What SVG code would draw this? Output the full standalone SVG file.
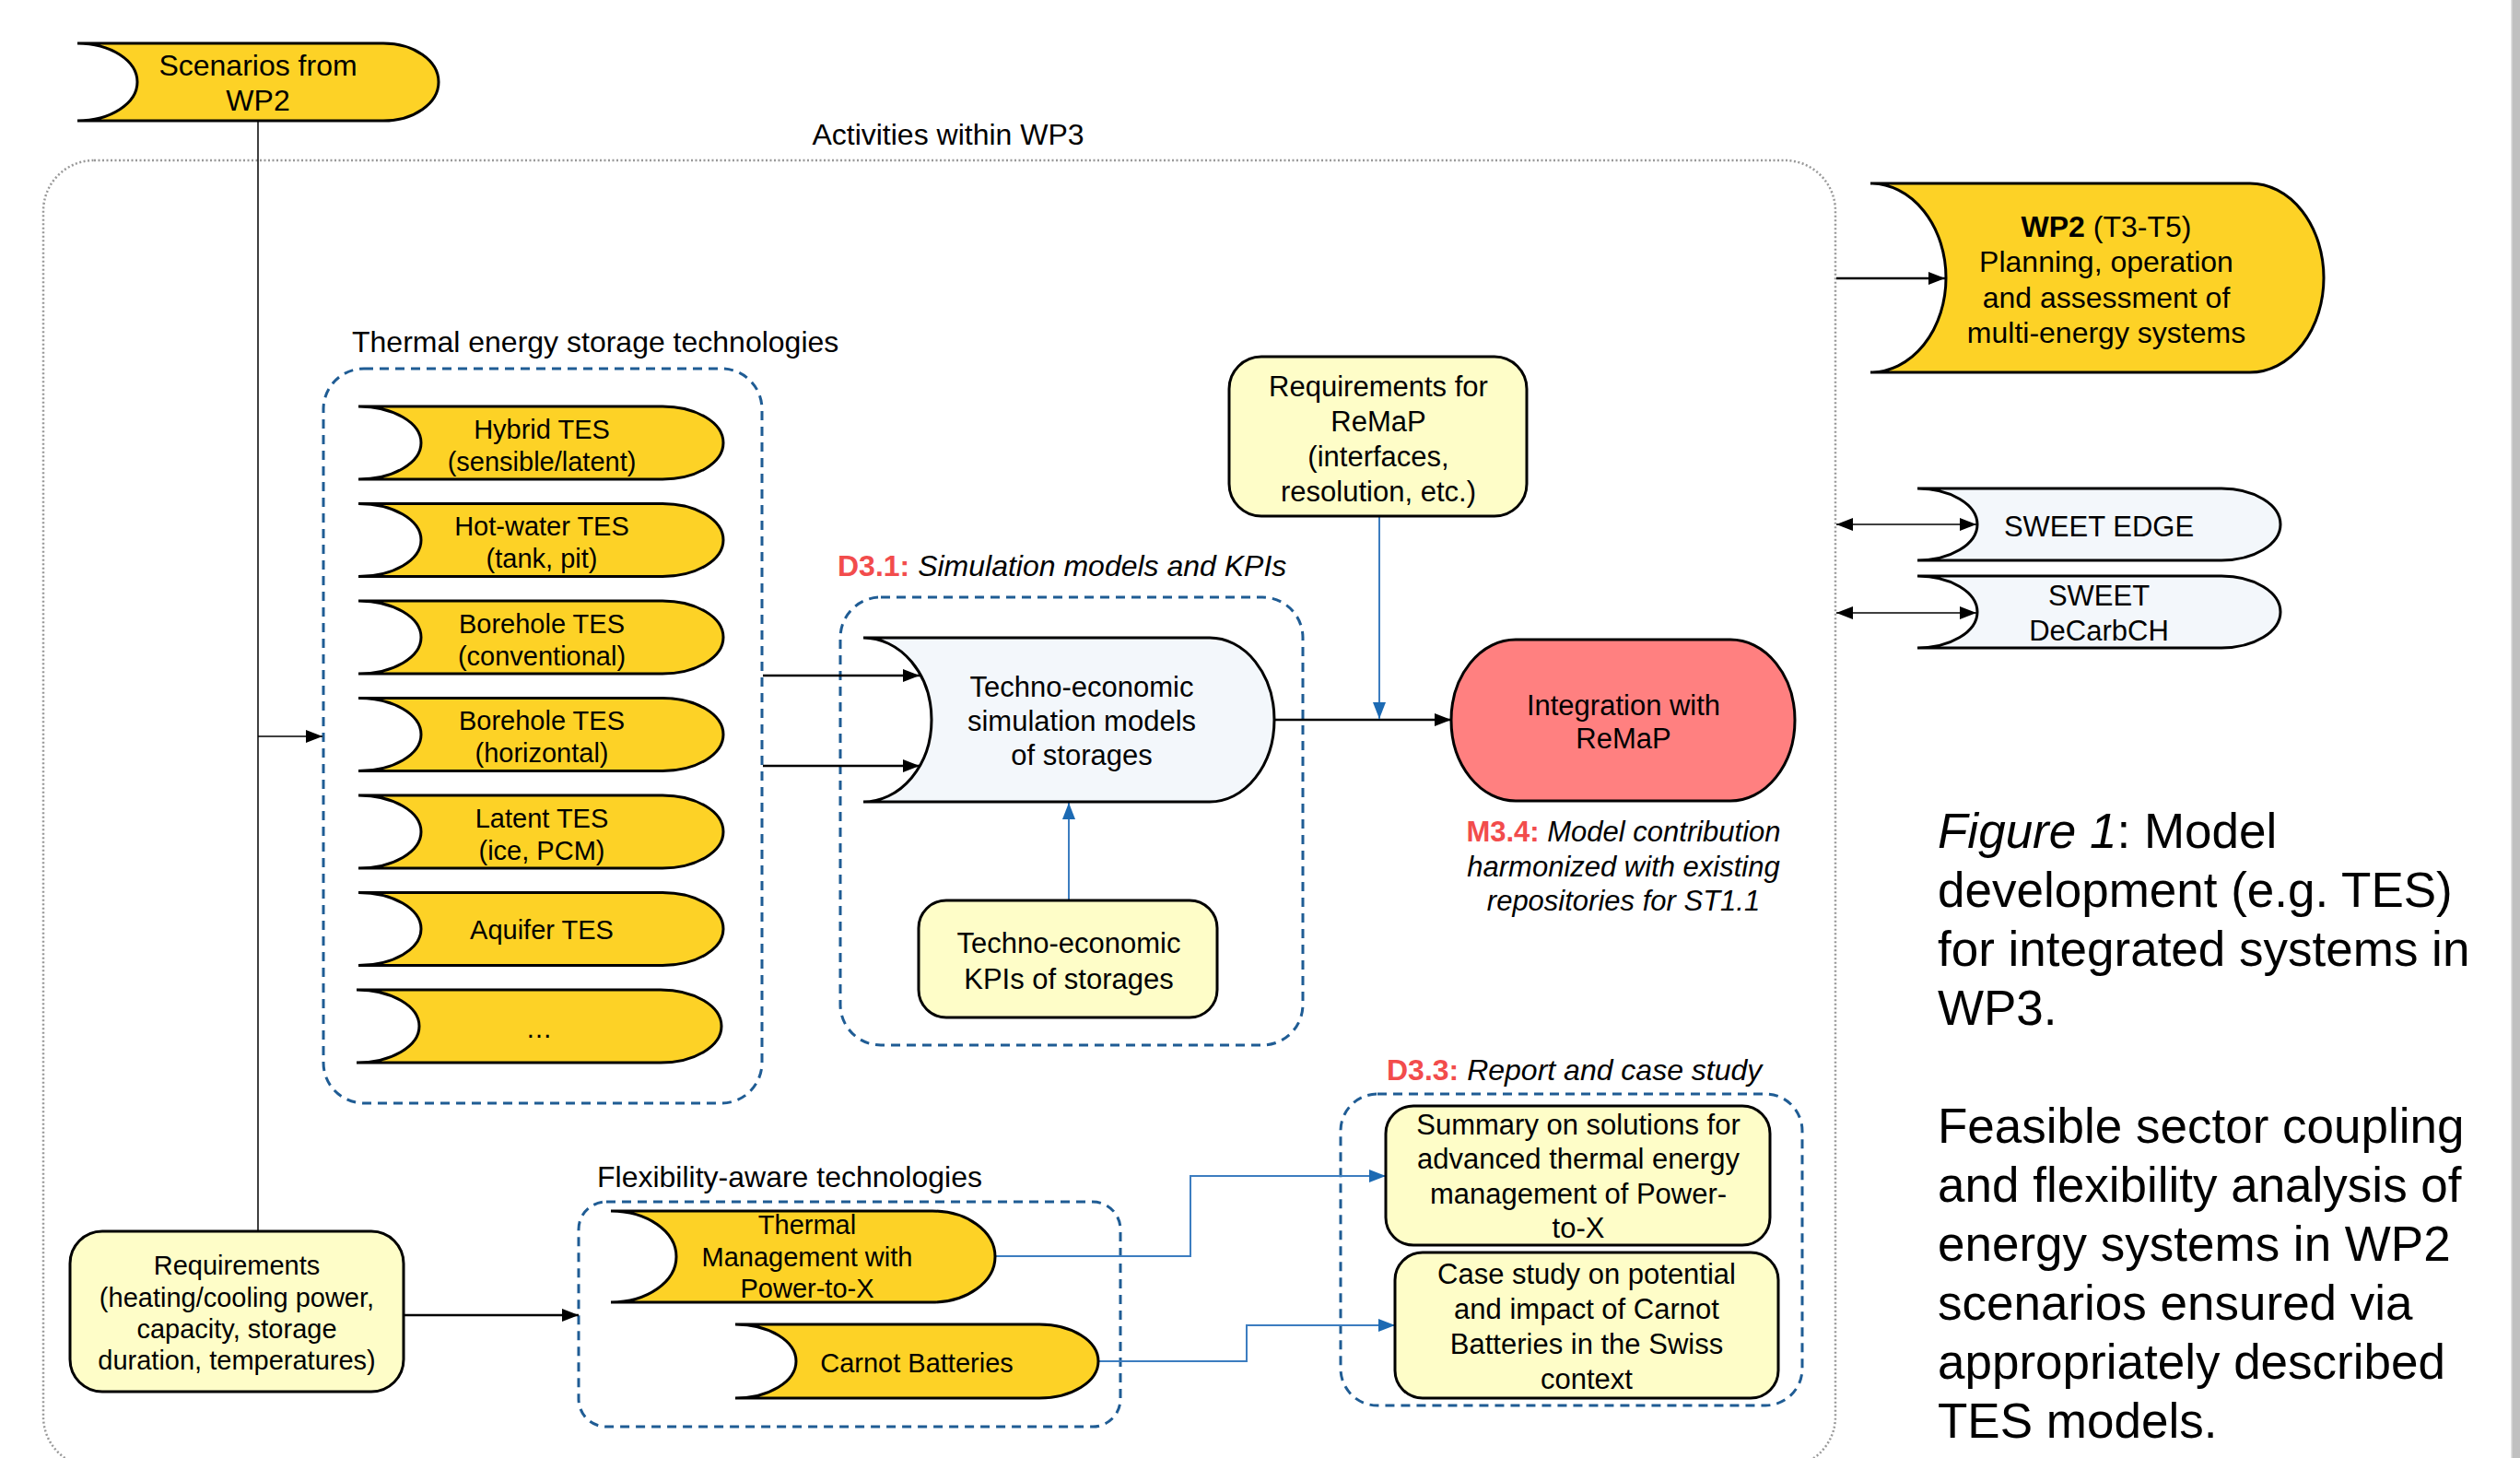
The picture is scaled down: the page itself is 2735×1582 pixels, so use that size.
<svg xmlns="http://www.w3.org/2000/svg" width="2735" height="1582" viewBox="0 0 2735 1582">
  <style>
    text { font-family: "Liberation Sans", Arial, sans-serif; fill: #000; }
    .t32 { font-size: 32px; }
    .t31 { font-size: 31px; text-anchor: middle; }
    .t29 { font-size: 29px; text-anchor: middle; }
    .mid { text-anchor: middle; }
    .cap { font-size: 53px; }
    .red { fill: #f24c4c; font-weight: bold; font-style: normal; }
    .it { font-style: italic; }
    .node { stroke: #000; stroke-width: 3; }
    .yellow { fill: #fdd226; }
    .pale { fill: #fefdc8; }
    .ice { fill: #f3f7fb; }
    .salmon { fill: #ff8080; }
    .group { fill: none; stroke: #1f5c94; stroke-width: 3; stroke-dasharray: 10 7; }
    .outer { fill: none; stroke: #999; stroke-width: 2.5; stroke-dasharray: 2 2.5; }
    .link { fill: none; stroke: #000; stroke-width: 2.5; }
    .thin { fill: none; stroke: #000; stroke-width: 1.5; }
    .blue { fill: none; stroke: #3c7dc0; stroke-width: 2; }
  </style>
  <defs>
    <marker id="arrow" markerUnits="userSpaceOnUse" markerWidth="18" markerHeight="14" refX="18" refY="7" orient="auto-start-reverse">
      <path d="M0 0 L18 7 L0 14 Z" fill="#000"/>
    </marker>
    <marker id="arrowBlue" markerUnits="userSpaceOnUse" markerWidth="18" markerHeight="14" refX="18" refY="7" orient="auto">
      <path d="M0 0 L18 7 L0 14 Z" fill="#1c6ab3"/>
    </marker>
  </defs>

  <rect width="2735" height="1582" fill="#fff"/>
  <!-- page edge -->
  <rect x="2726" y="0" width="9" height="1582" fill="#c0c0c0"/>
  <rect x="2725" y="0" width="1.5" height="1582" fill="#e2e2e2"/>

  <!-- WP3 frame -->
  <g id="wp3-frame">
    <rect class="outer" x="47" y="174" width="1945" height="1418" rx="55"/>
    <text class="t32 mid" x="1029" y="157">Activities within WP3</text>
  </g>

  <!-- group frames -->
  <g id="tes-group">
    <rect class="group" x="351" y="400" width="476" height="797" rx="44"/>
    <text class="t32" x="382" y="382">Thermal energy storage technologies</text>
  </g>
  <g id="d31-group">
    <rect class="group" x="912" y="648" width="502" height="486" rx="44"/>
    <text class="t32" x="909" y="625"><tspan class="red">D3.1:</tspan><tspan class="it"> Simulation models and KPIs</tspan></text>
  </g>
  <g id="flex-group">
    <rect class="group" x="628" y="1304" width="588" height="244" rx="30"/>
    <text class="t32" x="648" y="1288">Flexibility-aware technologies</text>
  </g>
  <g id="d33-group">
    <rect class="group" x="1455" y="1187" width="501" height="338" rx="40"/>
    <text class="t32" x="1505" y="1172"><tspan class="red">D3.3:</tspan><tspan class="it"> Report and case study</tspan></text>
  </g>

  <!-- connectors -->
  <g id="connectors">
    <path class="thin" d="M280 131 V1336"/>
    <path class="thin" d="M280 799 H350" marker-end="url(#arrow)"/>
    <path class="link" d="M828 733 H998" marker-end="url(#arrow)"/>
    <path class="link" d="M828 831 H998" marker-end="url(#arrow)"/>
    <path class="link" d="M1383 781 H1575" marker-end="url(#arrow)"/>
    <path class="blue" d="M1497 561 V780" marker-end="url(#arrowBlue)"/>
    <path class="blue" d="M1160 977 V871" marker-end="url(#arrowBlue)"/>
    <path class="link" d="M1993 302 H2111" marker-end="url(#arrow)"/>
    <path class="thin" d="M1993 569 H2145" marker-start="url(#arrow)" marker-end="url(#arrow)"/>
    <path class="thin" d="M1993 665 H2145" marker-start="url(#arrow)" marker-end="url(#arrow)"/>
    <path class="link" d="M438 1427 H628" marker-end="url(#arrow)"/>
    <path class="blue" d="M1080 1363 H1292 V1276 H1504" marker-end="url(#arrowBlue)"/>
    <path class="blue" d="M1192 1477 H1353 V1438 H1514" marker-end="url(#arrowBlue)"/>
  </g>

  <!-- nodes -->
  <g id="scenarios-wp2">
    <path class="node yellow" d="M84 47 H416 A60 42 0 0 1 416 131 H84 A65 42 0 0 0 84 47 Z"/>
    <text class="t32 mid" x="280" y="82">Scenarios from</text>
    <text class="t32 mid" x="280" y="120">WP2</text>
  </g>

  <g id="tes-hybrid">
    <path class="node yellow" d="M389 441 H719 A66 39.5 0 0 1 719 520 H389 A68 39.5 0 0 0 389 441 Z"/>
    <text class="t29" x="588" y="476">Hybrid TES</text>
    <text class="t29" x="588" y="511">(sensible/latent)</text>
  </g>
  <g id="tes-hotwater">
    <path class="node yellow" d="M389 546.5 H719 A66 39.5 0 0 1 719 625.5 H389 A68 39.5 0 0 0 389 546.5 Z"/>
    <text class="t29" x="588" y="581">Hot-water TES</text>
    <text class="t29" x="588" y="616">(tank, pit)</text>
  </g>
  <g id="tes-borehole-conv">
    <path class="node yellow" d="M389 652 H719 A66 39.5 0 0 1 719 731 H389 A68 39.5 0 0 0 389 652 Z"/>
    <text class="t29" x="588" y="686.5">Borehole TES</text>
    <text class="t29" x="588" y="721.5">(conventional)</text>
  </g>
  <g id="tes-borehole-horiz">
    <path class="node yellow" d="M389 757.5 H719 A66 39.5 0 0 1 719 836.5 H389 A68 39.5 0 0 0 389 757.5 Z"/>
    <text class="t29" x="588" y="792">Borehole TES</text>
    <text class="t29" x="588" y="827">(horizontal)</text>
  </g>
  <g id="tes-latent">
    <path class="node yellow" d="M389 863 H719 A66 39.5 0 0 1 719 942 H389 A68 39.5 0 0 0 389 863 Z"/>
    <text class="t29" x="588" y="897.5">Latent TES</text>
    <text class="t29" x="588" y="932.5">(ice, PCM)</text>
  </g>
  <g id="tes-aquifer">
    <path class="node yellow" d="M389 968.5 H719 A66 39.5 0 0 1 719 1047.5 H389 A68 39.5 0 0 0 389 968.5 Z"/>
    <text class="t29" x="588" y="1019">Aquifer TES</text>
  </g>
  <g id="tes-more">
    <path class="node yellow" d="M387 1074 H717 A66 39.5 0 0 1 717 1153 H387 A68 39.5 0 0 0 387 1074 Z"/>
    <text class="t29" x="585" y="1126">…</text>
  </g>

  <g id="simulation-models">
    <path class="node ice" d="M937 692 H1313 A70 89 0 0 1 1313 870 H937 A74 89 0 0 0 937 692 Z"/>
    <text class="t31" x="1174" y="756">Techno-economic</text>
    <text class="t31" x="1174" y="793">simulation models</text>
    <text class="t31" x="1174" y="830">of storages</text>
  </g>

  <g id="kpis">
    <rect class="node pale" x="997" y="977" width="324" height="127" rx="30"/>
    <text class="t31" x="1160" y="1034">Techno-economic</text>
    <text class="t31" x="1160" y="1073">KPIs of storages</text>
  </g>

  <g id="remap-requirements">
    <rect class="node pale" x="1334" y="387" width="323" height="173" rx="35"/>
    <text class="t31" x="1496" y="430">Requirements for</text>
    <text class="t31" x="1496" y="468">ReMaP</text>
    <text class="t31" x="1496" y="506">(interfaces,</text>
    <text class="t31" x="1496" y="544">resolution, etc.)</text>
  </g>

  <g id="remap-integration">
    <path class="node salmon" d="M1645 694 H1878 A70 87.5 0 0 1 1878 869 H1645 A70 87.5 0 0 1 1645 694 Z"/>
    <text class="t31" x="1762" y="776">Integration with</text>
    <text class="t31" x="1762" y="812">ReMaP</text>
  </g>

  <g id="m34-note">
    <text class="t31 it" x="1762" y="913"><tspan class="red">M3.4:</tspan> Model contribution</text>
    <text class="t31 it" x="1762" y="951">harmonized with existing</text>
    <text class="t31 it" x="1762" y="988">repositories for ST1.1</text>
  </g>

  <g id="wp2-planning">
    <path class="node yellow" d="M2030 199 H2442 A80 102.5 0 0 1 2442 404 H2030 A82 102.5 0 0 0 2030 199 Z"/>
    <text class="t32 mid" x="2286" y="257"><tspan font-weight="bold">WP2</tspan> (T3-T5)</text>
    <text class="t32 mid" x="2286" y="295">Planning, operation</text>
    <text class="t32 mid" x="2286" y="334">and assessment of</text>
    <text class="t32 mid" x="2286" y="372">multi-energy systems</text>
  </g>

  <g id="sweet-edge">
    <path class="node ice" d="M2081 530 H2411 A64 39 0 0 1 2411 608 H2081 A65 39 0 0 0 2081 530 Z"/>
    <text class="t31" x="2278" y="582">SWEET EDGE</text>
  </g>
  <g id="sweet-decarbch">
    <path class="node ice" d="M2081 625 H2411 A64 39 0 0 1 2411 703 H2081 A65 39 0 0 0 2081 625 Z"/>
    <text class="t31" x="2278" y="657">SWEET</text>
    <text class="t31" x="2278" y="695">DeCarbCH</text>
  </g>

  <g id="requirements">
    <rect class="node pale" x="76" y="1336" width="362" height="174" rx="35"/>
    <text class="t29" x="257" y="1383">Requirements</text>
    <text class="t29" x="257" y="1418">(heating/cooling power,</text>
    <text class="t29" x="257" y="1452">capacity, storage</text>
    <text class="t29" x="257" y="1486">duration, temperatures)</text>
  </g>

  <g id="thermal-management">
    <path class="node yellow" d="M663 1314 H1012 A68 49.5 0 0 1 1012 1413 H663 A71 49.5 0 0 0 663 1314 Z"/>
    <text class="t29" x="876" y="1339">Thermal</text>
    <text class="t29" x="876" y="1374">Management with</text>
    <text class="t29" x="876" y="1408">Power-to-X</text>
  </g>

  <g id="carnot-batteries">
    <path class="node yellow" d="M798 1437 H1128 A64 40 0 0 1 1128 1517 H798 A66 40 0 0 0 798 1437 Z"/>
    <text class="t29" x="995" y="1489">Carnot Batteries</text>
  </g>

  <g id="summary-ptx">
    <rect class="node pale" x="1504" y="1200" width="417" height="151" rx="30"/>
    <text class="t31" x="1713" y="1231">Summary on solutions for</text>
    <text class="t31" x="1713" y="1268">advanced thermal energy</text>
    <text class="t31" x="1713" y="1306">management of Power-</text>
    <text class="t31" x="1713" y="1343">to-X</text>
  </g>

  <g id="case-study">
    <rect class="node pale" x="1514" y="1359" width="416" height="158" rx="30"/>
    <text class="t31" x="1722" y="1393">Case study on potential</text>
    <text class="t31" x="1722" y="1431">and impact of Carnot</text>
    <text class="t31" x="1722" y="1469">Batteries in the Swiss</text>
    <text class="t31" x="1722" y="1507">context</text>
  </g>

  <!-- caption -->
  <g id="caption">
    <text class="cap" x="2103" y="920"><tspan font-style="italic">Figure 1</tspan>: Model</text>
    <text class="cap" x="2103" y="984">development (e.g. TES)</text>
    <text class="cap" x="2103" y="1048">for integrated systems in</text>
    <text class="cap" x="2103" y="1112">WP3.</text>
    <text class="cap" x="2103" y="1240">Feasible sector coupling</text>
    <text class="cap" x="2103" y="1304">and flexibility analysis of</text>
    <text class="cap" x="2103" y="1368">energy systems in WP2</text>
    <text class="cap" x="2103" y="1432">scenarios ensured via</text>
    <text class="cap" x="2103" y="1496">appropriately described</text>
    <text class="cap" x="2103" y="1560">TES models.</text>
  </g>
</svg>
